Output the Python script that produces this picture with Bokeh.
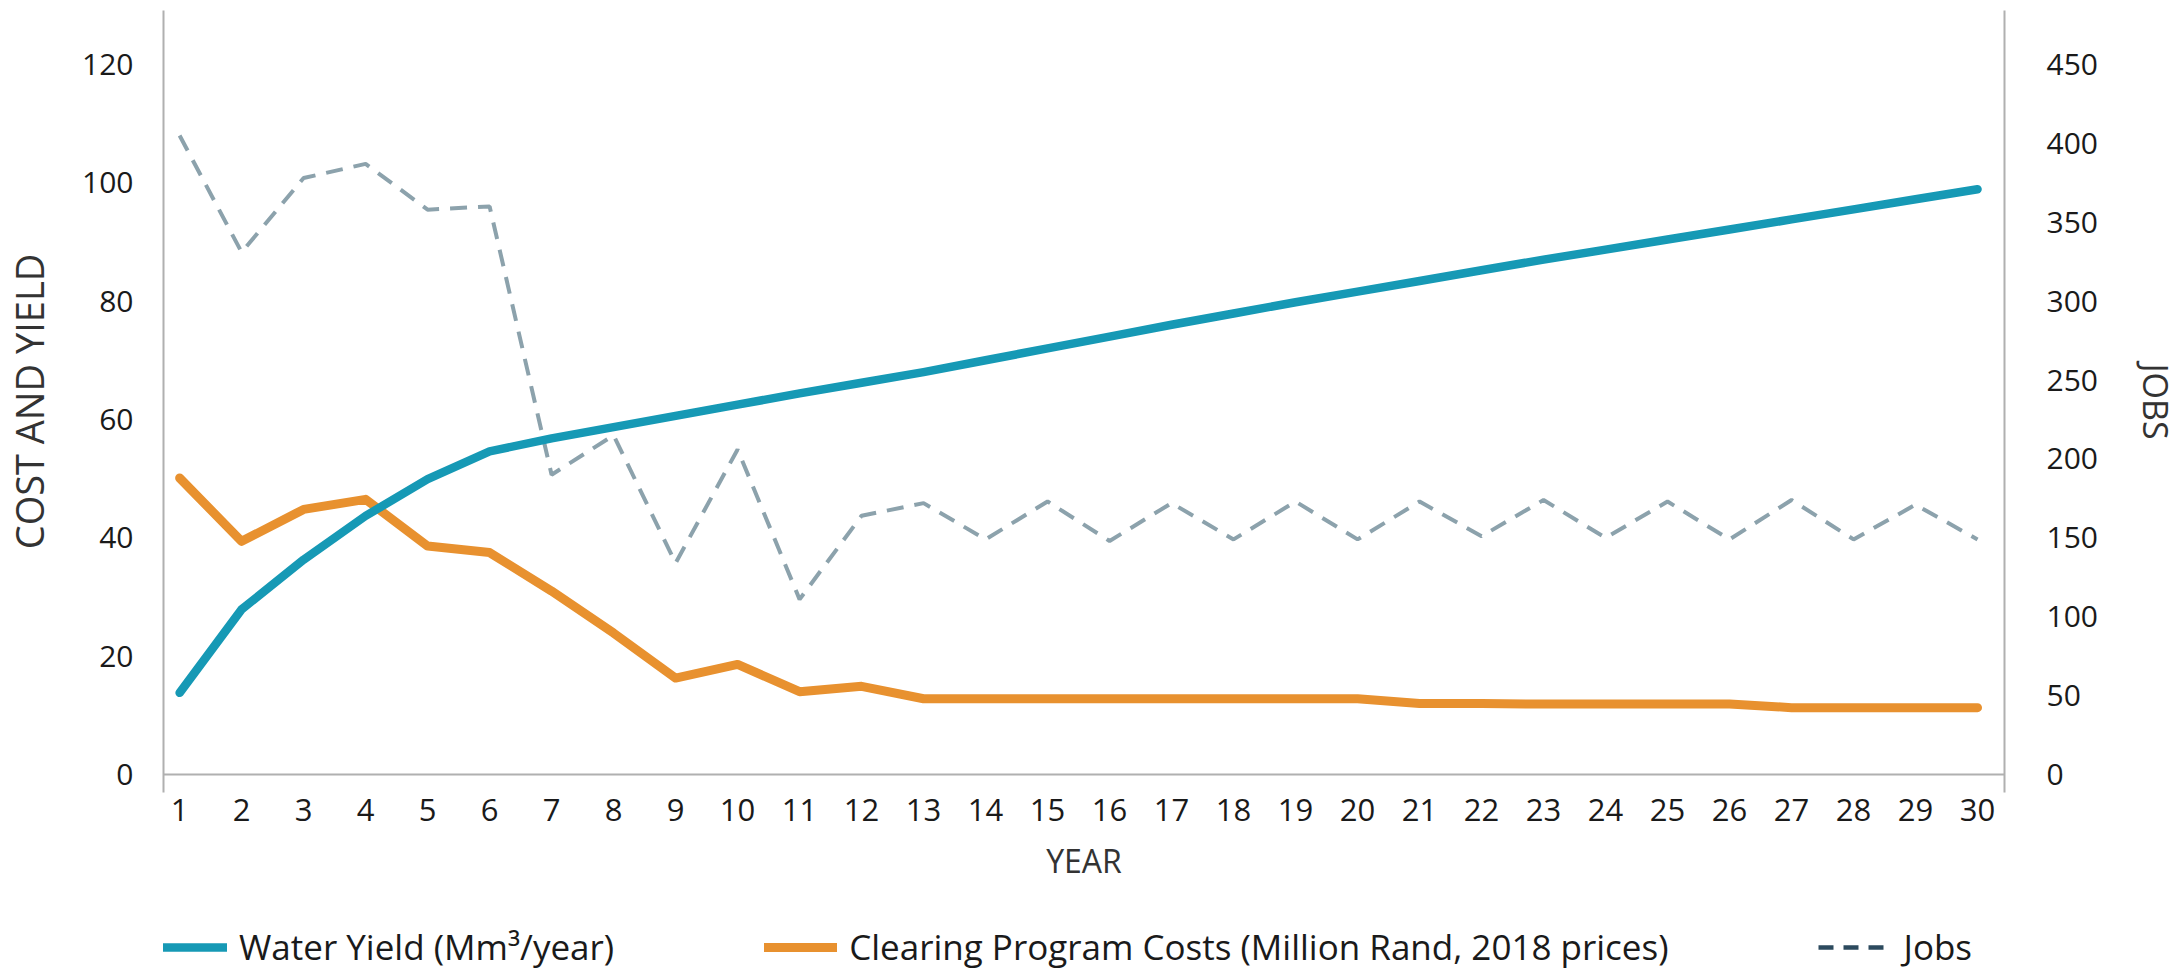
from bokeh.plotting import figure
from bokeh.layouts import column
from bokeh.models import Range1d, LinearAxis, Span, Legend, LegendItem, FixedTicker
from bokeh.embed import file_html
from bokeh.resources import INLINE

years = list(range(1, 31))
water_yield = [13.8, 27.9, 36.3, 43.7, 49.9, 54.6, 56.8, 58.7, 60.6, 62.5,
               64.4, 66.2, 68.0, 70.0, 72.0, 74.0, 76.0, 77.9, 79.8, 81.6,
               83.4, 85.2, 87.0, 88.7, 90.4, 92.1, 93.8, 95.5, 97.2, 98.9]
costs = [50.1, 39.4, 44.8, 46.5, 38.6, 37.5, 31.0, 23.9, 16.3, 18.6,
         14.0, 14.9, 12.8, 12.8, 12.8, 12.8, 12.8, 12.8, 12.8, 12.8,
         12.0, 12.0, 11.9, 11.9, 11.9, 11.9, 11.3, 11.3, 11.3, 11.3]
jobs = [405, 331, 378, 387, 358, 360, 190, 215, 134, 206,
        111, 164, 172, 149, 173, 148, 172, 149, 173, 149,
        173, 151, 174, 150, 173, 149, 174, 149, 171, 149]
left_ticks = [0, 20, 40, 60, 80, 100, 120]
right_ticks = [0, 50, 100, 150, 200, 250, 300, 350, 400, 450]
series_names = ["Water Yield (Mm³/year)",
                "Clearing Program Costs (Million Rand, 2018 prices)",
                "Jobs"]

BLUE = "#1699b5"
ORANGE = "#e8912f"
JOBS_C = "#8ca2ac"
JOBS_KEY = "#2c4a5e"
AXIS_C = "#b0b0b0"
TXT = "#1a1a1a"
FONT = "Open Sans"

W = 2182
p = figure(width=W, height=900, output_backend="svg", toolbar_location=None,
           x_range=Range1d(0.74, 30.435), y_range=Range1d(-3.04, 129.1),
           min_border_left=162, min_border_right=178, min_border_top=10,
           min_border_bottom=108)
p.outline_line_color = None
p.xgrid.visible = False
p.ygrid.visible = False
p.background_fill_color = "white"
p.border_fill_color = "white"

p.extra_y_ranges = {"jobs": Range1d(-11.4, 484.2)}

# x axis
xa = p.xaxis[0]
xa.ticker = FixedTicker(ticks=years)
xa.axis_line_color = None
xa.major_tick_line_color = None
xa.minor_tick_line_color = None
xa.major_label_standoff = 0
xa.major_label_text_font = "Liberation Sans Narrow, Open Sans"
xa.major_label_text_font_size = "31px"
xa.major_label_text_color = TXT
xa.axis_label = "YEAR"
xa.axis_label_text_font = FONT
xa.axis_label_text_font_size = "32px"
xa.axis_label_text_font_style = "normal"
xa.axis_label_text_color = "#333333"
xa.axis_label_standoff = 15

# left axis
ya = p.yaxis[0]
ya.ticker = FixedTicker(ticks=left_ticks)
ya.axis_line_color = AXIS_C
ya.axis_line_width = 2
ya.major_tick_line_color = None
ya.minor_tick_line_color = None
ya.major_label_standoff = 24
ya.major_label_text_font = FONT
ya.major_label_text_font_size = "30px"
ya.major_label_text_color = TXT
ya.axis_label = "COST AND YIELD"
ya.axis_label_text_font = FONT
ya.axis_label_text_font_size = "38px"
ya.axis_label_text_font_style = "normal"
ya.axis_label_text_color = "#333333"
ya.axis_label_standoff = 24

# right axis
ra = LinearAxis(y_range_name="jobs", ticker=FixedTicker(ticks=right_ticks))
ra.axis_line_color = AXIS_C
ra.axis_line_width = 2
ra.major_tick_line_color = None
ra.minor_tick_line_color = None
ra.major_label_standoff = 36
ra.major_label_text_font = FONT
ra.major_label_text_font_size = "30px"
ra.major_label_text_color = TXT
ra.axis_label = "JOBS"
ra.axis_label_text_font = FONT
ra.axis_label_text_font_size = "34px"
ra.axis_label_text_font_style = "normal"
ra.axis_label_text_color = "#333333"
ra.axis_label_standoff = 32
p.add_layout(ra, "right")

p.add_layout(Span(location=0, dimension="width", line_color=AXIS_C, line_width=2))

p.line(years, jobs, y_range_name="jobs", line_color=JOBS_C,
       line_width=4, line_dash="17 11")
p.line(years, costs, line_color=ORANGE, line_width=9,
       line_cap="round", line_join="round")
p.line(years, water_yield, line_color=BLUE, line_width=8.5,
       line_cap="round", line_join="round")

# ---- legend strip (separate small figure holding only the key) ----
nan = float("nan")
lg = figure(width=W, height=72, output_backend="svg", toolbar_location=None,
            x_range=Range1d(0, 1), y_range=Range1d(0, 1),
            x_axis_type=None, y_axis_type=None,
            min_border_left=0, min_border_right=0, min_border_top=0,
            min_border_bottom=0)
lg.outline_line_color = None
lg.background_fill_color = "white"
lg.border_fill_color = "white"

k_yield = lg.line([0, 1], [nan, nan], line_color=BLUE, line_width=8.5, line_cap="round")
k_cost = lg.line([0, 1], [nan, nan], line_color=ORANGE, line_width=9, line_cap="round")
k_jobs = lg.line([0, 1], [nan, nan], line_color=JOBS_KEY, line_width=4.5, line_dash="15 10")

# the strip's frame is aligned with the chart's frame (left edge ~162px)
legend = Legend(items=[
    LegendItem(label=series_names[0], renderers=[k_yield]),
    LegendItem(label=series_names[1], renderers=[k_cost]),
    LegendItem(label=series_names[2], renderers=[k_jobs]),
], orientation="horizontal", location=(-9, 2))
legend.glyph_width = 73
legend.glyph_height = 30
legend.label_height = 35
legend.label_standoff = 12
legend.spacing = 150
legend.label_text_font = FONT
legend.label_text_font_size = "35px"
legend.label_text_color = TXT
legend.border_line_color = None
legend.background_fill_alpha = 0
legend.margin = 0
legend.padding = 0
lg.add_layout(legend, "center")

layout = column(p, lg, spacing=0)
open("out.html", "w").write(file_html(layout, INLINE))
